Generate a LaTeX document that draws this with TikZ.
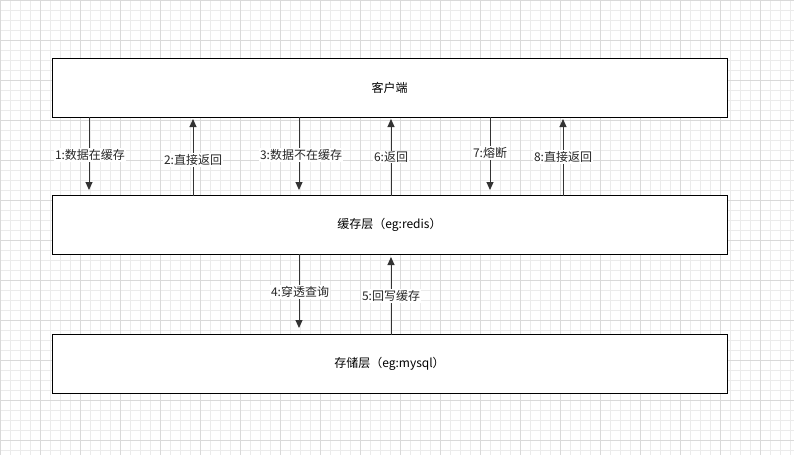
\documentclass[tikz,border=0pt]{standalone}
\usepackage{fontspec}
\setmainfont{Noto Sans CJK SC}
\usetikzlibrary{arrows.meta}
\begin{document}
\begin{tikzpicture}[x=1pt,y=-1pt,
  box/.style={draw=black,line width=1pt,fill=white,minimum width=675pt,minimum height=59pt,inner sep=0pt,font=\fontsize{12}{14}\selectfont},
  arr/.style={draw=black!80,line width=1pt,-{Triangle[length=8pt,width=7pt]}},
  lab/.style={fill=white,inner sep=1pt,font=\fontsize{12}{14}\selectfont,text=black!85},
  gminor/.style={black!8,line width=0.6pt},
  gmajor/.style={black!15,line width=0.6pt}]
\fill[white] (0,0) rectangle (794,455);
\useasboundingbox (0,0) rectangle (794,455);
\foreach \x in {0,10,...,790} {\draw[gminor] (\x,0) -- (\x,455);}
\foreach \y in {0,10,...,450} {\draw[gminor] (0,\y) -- (794,\y);}
\foreach \x in {0,40,...,790} {\draw[gmajor] (\x,0) -- (\x,455);}
\foreach \y in {0,40,...,450} {\draw[gmajor] (0,\y) -- (794,\y);}
\node[box] (c) at (389.5,87.5) {客户端};
\node[box] (r) at (389.5,225) {缓存层（eg:redis）};
\node[box] (m) at (389.5,364) {存储层（eg:mysql）};
\coordinate (a1) at (89,117); \coordinate (b1) at (89,190);
\coordinate (a2) at (193,196); \coordinate (b2) at (193,119);
\coordinate (a3) at (299,117); \coordinate (b3) at (299,190);
\coordinate (a6) at (391,196); \coordinate (b6) at (391,119);
\coordinate (a7) at (490,117); \coordinate (b7) at (490,190);
\coordinate (a8) at (563,196); \coordinate (b8) at (563,119);
\coordinate (a4) at (299,254); \coordinate (b4) at (299,328);
\coordinate (a5) at (391,335); \coordinate (b5) at (391,257);
\foreach \i in {1,2,3,6,7,8,4,5} {\draw[arr] (a\i) -- (b\i);}
\node[lab] (l1) at (90,155) {1:数据在缓存};
\node[lab] (l2) at (193,160) {2:直接返回};
\node[lab] (l3) at (301,155) {3:数据不在缓存};
\node[lab] (l6) at (391,157) {6:返回};
\node[lab] (l7) at (490,153) {7:熔断};
\node[lab] (l8) at (563,157) {8:直接返回};
\node[lab] (l4) at (300,292) {4:穿透查询};
\node[lab] (l5) at (391,296) {5:回写缓存};
\end{tikzpicture}
\end{document}
